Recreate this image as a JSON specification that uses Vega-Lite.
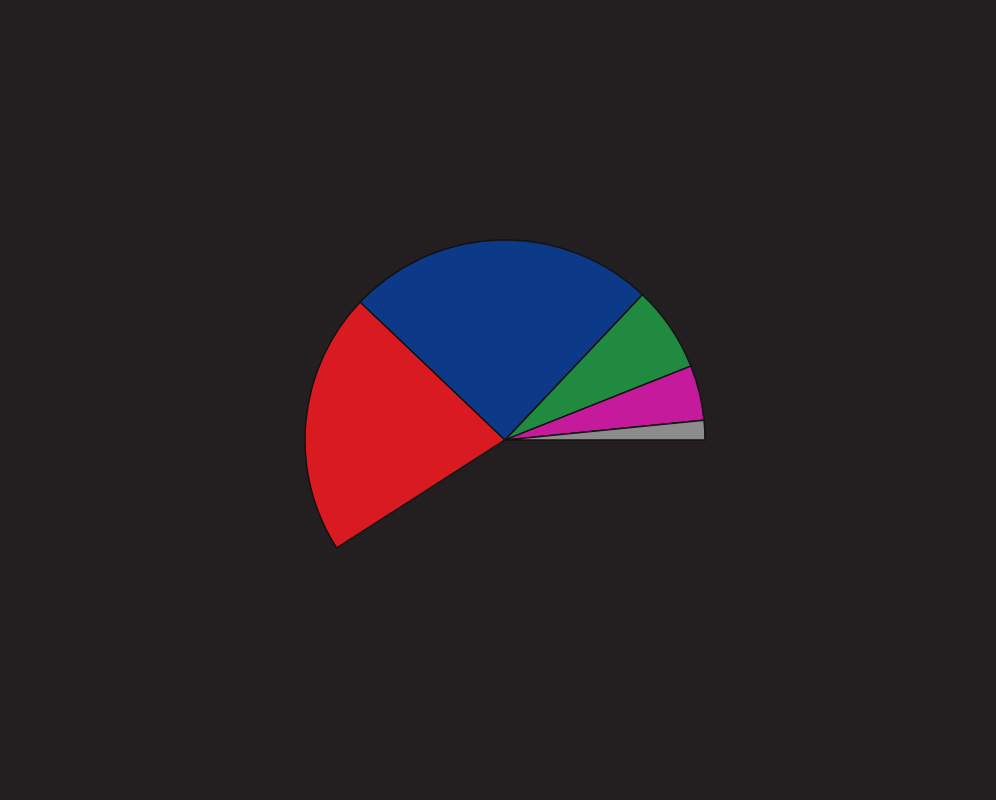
{
  "$schema": "https://vega.github.io/schema/vega-lite/v6.json",
  "width": 996,
  "height": 800,
  "autosize": {"type": "fit", "contains": "padding"},
  "padding": {"left": 14, "right": 0, "top": 80, "bottom": 0},
  "background": "#231f20",
  "config": {"view": {"stroke": null}},
  "data": {
    "values": [
      {"category": "Red", "value": 76.3, "rank": 1},
      {"category": "Blue", "value": 89.8, "rank": 2},
      {"category": "Green", "value": 24.9, "rank": 3},
      {"category": "Magenta", "value": 16.0, "rank": 4},
      {"category": "Gray", "value": 5.7, "rank": 5}
    ]
  },
  "mark": {"type": "arc", "outerRadius": 200, "stroke": "#151213", "strokeWidth": 1.5},
  "encoding": {
    "theta": {
      "field": "value",
      "type": "quantitative",
      "stack": true,
      "scale": {"domain": [0, 360], "range": [4.142, 10.425]}
    },
    "order": {"field": "rank", "type": "quantitative"},
    "color": {
      "field": "category",
      "type": "nominal",
      "scale": {
        "domain": ["Red", "Blue", "Green", "Magenta", "Gray"],
        "range": ["#da1a21", "#0d3a88", "#1f8a40", "#c61a9c", "#8c8c8c"]
      },
      "legend": null
    }
  }
}
